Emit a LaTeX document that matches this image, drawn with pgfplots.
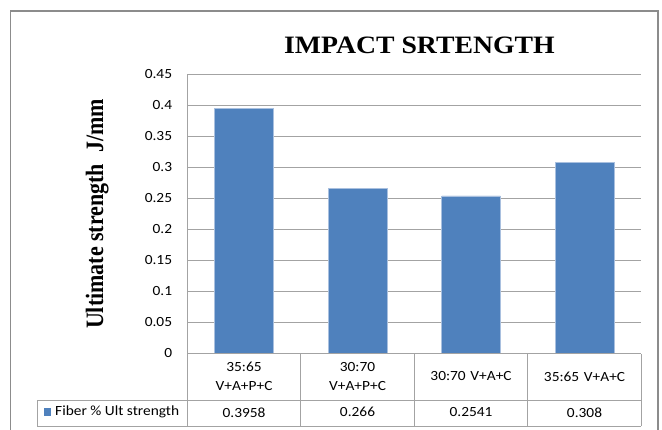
\documentclass[border=0pt]{standalone}
\usepackage{pgfplots}
\pgfplotsset{compat=1.18}
\usepackage{fontspec}
\setmainfont{Carlito}
\newfontfamily\calib{Carlito}[FakeStretch=1.1]
\newfontfamily\timesT{Liberation Serif}[FakeStretch=1.11]
\newfontfamily\timesY{Liberation Serif}[FakeStretch=0.88]
\definecolor{barblue}{HTML}{4F81BD}
\definecolor{baredge}{HTML}{A9C0DF}
\definecolor{gridgray}{HTML}{A3A3A3}
\definecolor{framegray}{HTML}{8C8C8C}
\newcommand{\tf}{\calib\fontsize{14}{19.5}\selectfont}
\begin{document}
\begin{tikzpicture}
\useasboundingbox (0,0) rectangle (662pt,429pt);
\draw[framegray, line width=1.2pt] (10.3pt,-10pt) -- (10.3pt,418pt) -- (658pt,418pt) -- (658pt,-10pt);
\begin{axis}[at={(187.3pt,75.5pt)}, anchor=south west, scale only axis,
  width=454pt, height=279pt,
  xmin=-0.5, xmax=3.5, ymin=0, ymax=0.45,
  axis line style={draw=none}, tick style={draw=none}, major tick length=0pt,
  ymajorgrids, grid style={gridgray, line width=0.8pt},
  ytick={0,0.05,0.1,0.15,0.2,0.25,0.3,0.35,0.4,0.45},
  yticklabels={0,0.05,0.1,0.15,0.2,0.25,0.3,0.35,0.4,0.45},
  xtick={0,1,2,3},
  xticklabels={{35:65\\V+A+P+C},{30:70\\V+A+P+C},{30:70 V+A+C},{35:65 V+A+C}},
  xticklabel style={font=\tf, text width=95pt, align=center, anchor=center, inner sep=0pt, yshift=-23pt},
  yticklabel style={font=\tf, anchor=east, inner sep=0pt, xshift=-15pt},
  clip=false]
\addplot[ybar, bar width=0.516, fill=barblue, draw=baredge, line width=0.6pt]
  coordinates {(0,0.3958) (1,0.266) (2,0.2541) (3,0.308)};
\node[font=\tf, yshift=-58.8pt] at (axis cs:0,0) {0.3958};
\node[font=\tf, yshift=-58.8pt] at (axis cs:1,0) {0.266};
\node[font=\tf, yshift=-58.8pt] at (axis cs:2,0) {0.2541};
\node[font=\tf, yshift=-58.8pt] at (axis cs:3,0) {0.308};
\end{axis}
% data table grid
\begin{scope}[gridgray, line width=0.8pt]
\draw (187.3pt,3pt) -- (187.3pt,354.5pt);
\foreach \x in {300.8,414.3,527.8,641.3} \draw (\x pt,3pt) -- (\x pt,75.5pt);
\draw (37.3pt,3pt) -- (37.3pt,29pt);
\draw (37.3pt,29pt) -- (641.3pt,29pt);
\draw (37.3pt,3pt) -- (641.3pt,3pt);
\draw (187.3pt,75.5pt) -- (641.3pt,75.5pt);
\end{scope}
\fill[barblue] (44pt,13.3pt) rectangle (51pt,21pt);
\node[font=\tf, anchor=west, inner sep=0pt] at (55pt,16.7pt) {Fiber \% Ult strength};
\node[font=\timesT\bfseries\fontsize{25}{30}\selectfont, anchor=base] at (419.5pt,375pt) {IMPACT SRTENGTH};
\node[font=\timesY\bfseries\fontsize{25}{30}\selectfont, rotate=90, anchor=base] at (103pt,215pt) {Ultimate strength\ \ J/mm};
\end{tikzpicture}
\end{document}
